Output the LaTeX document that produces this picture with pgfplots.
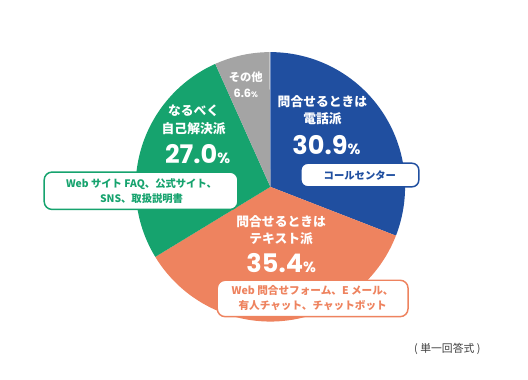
\documentclass[border=0pt]{standalone}
\usepackage{pgfplots}
\pgfplotsset{compat=1.18}
\usepackage{pgfplotstable}
\usepackage{fontspec}
\setmainfont{Noto Sans CJK JP}
\newfontfamily\num{Poppins}
\definecolor{cblue}{RGB}{32,79,160}
\definecolor{corange}{RGB}{238,131,95}
\definecolor{cgreen}{RGB}{22,163,110}
\definecolor{cgray}{RGB}{164,164,164}
\definecolor{cnote}{RGB}{60,60,60}
\pgfplotstableread{
label value
blue 30.9
orange 35.4
green 27.0
gray 6.6
}\piedata
\begin{document}
\pgfplotstablegetelem{0}{value}\of\piedata\let\vA\pgfplotsretval
\pgfplotstablegetelem{1}{value}\of\piedata\let\vB\pgfplotsretval
\pgfplotstablegetelem{2}{value}\of\piedata\let\vC\pgfplotsretval
\pgfplotstablegetelem{3}{value}\of\piedata\let\vD\pgfplotsretval
\pgfmathsetmacro\aA{90-3.6*\vA}
\pgfmathsetmacro\aB{\aA-3.6*\vB}
\pgfmathsetmacro\aC{\aB-3.6*\vC}
\pgfmathsetmacro\aD{\aC-3.6*\vD}
\begin{tikzpicture}
\begin{axis}[scale only axis, width=528bp, height=386bp,
  xmin=0, xmax=528, ymin=-386, ymax=0, hide axis, clip=false]
\path (axis cs:0,-386) rectangle (axis cs:528,0);
\addplot[draw=none, fill=cblue, domain=\aA:90, samples=90, variable=\t]
  ({266+137*cos(\t)},{-190+137*sin(\t)}) -- (axis cs:266,-190) -- cycle;
\addplot[draw=none, fill=corange, domain=\aB:\aA, samples=90, variable=\t]
  ({266+137*cos(\t)},{-190+137*sin(\t)}) -- (axis cs:266,-190) -- cycle;
\addplot[draw=none, fill=cgreen, domain=\aC:\aB, samples=90, variable=\t]
  ({266+137*cos(\t)},{-190+137*sin(\t)}) -- (axis cs:266,-190) -- cycle;
\addplot[draw=none, fill=cgray, domain=\aD:\aC, samples=40, variable=\t]
  ({266+137*cos(\t)},{-190+137*sin(\t)}) -- (axis cs:266,-190) -- cycle;
% labels
\node[white, align=center, font=\fontsize{13bp}{18bp}\selectfont\bfseries] at (axis cs:319,-112) {問合せるときは\\電話派};
\node[white, font=\bfseries] at (axis cs:323,-148) {{\num\fontsize{26bp}{26bp}\selectfont 30.9}{\num\fontsize{15bp}{15bp}\selectfont\%}};
\node[white, align=center, font=\fontsize{13bp}{18bp}\selectfont\bfseries] at (axis cs:277,-234) {問合せるときは\\テキスト派};
\node[white, font=\bfseries] at (axis cs:277,-268) {{\num\fontsize{26bp}{26bp}\selectfont 35.4}{\num\fontsize{15bp}{15bp}\selectfont\%}};
\node[white, align=center, font=\fontsize{13bp}{18bp}\selectfont\bfseries] at (axis cs:188,-121.5) {なるべく\\自己解決派};
\node[white, font=\bfseries] at (axis cs:192,-157) {{\num\fontsize{26bp}{26bp}\selectfont 27.0}{\num\fontsize{15bp}{15bp}\selectfont\%}};
\node[white, align=center, font=\fontsize{11.5bp}{16bp}\selectfont\bfseries] at (axis cs:241,-86) {その他\\{\num 6.6}{\num\fontsize{8bp}{8bp}\selectfont\%}};
% boxes
\draw[cblue, line width=1.5bp, fill=white, rounded corners=7bp] (axis cs:297,-166) rectangle (axis cs:417,-190);
\node[cblue, font=\fontsize{10.5bp}{14bp}\selectfont\bfseries] at (axis cs:357,-178) {コールセンター};
\draw[cgreen, line width=1.5bp, fill=white, rounded corners=8bp] (axis cs:36,-175) rectangle (axis cs:233,-213);
\node[cgreen, align=center, font=\fontsize{10.5bp}{15bp}\selectfont\bfseries] at (axis cs:135,-194) {Web サイト FAQ、公式サイト、\\SNS、取扱説明書};
\draw[corange, line width=1.5bp, fill=white, rounded corners=8bp] (axis cs:212,-285) rectangle (axis cs:406,-322);
\node[corange, align=center, font=\fontsize{10.8bp}{15bp}\selectfont\bfseries] at (axis cs:309,-303) {Web 問合せフォーム、E メール、\\有人チャット、チャットボット};
\node[cnote, font=\fontsize{11bp}{12bp}\selectfont] at (axis cs:446,-355) {( 単一回答式 )};
\end{axis}
\end{tikzpicture}
\end{document}
